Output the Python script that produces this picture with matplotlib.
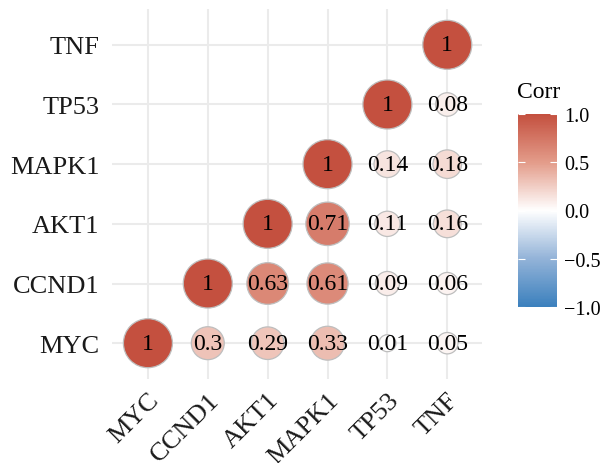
import numpy as np
import matplotlib
matplotlib.use("Agg")
import matplotlib.pyplot as plt
from matplotlib.colors import LinearSegmentedColormap, Normalize
from matplotlib.cm import ScalarMappable

plt.rcParams['font.family'] = ['Liberation Serif', 'DejaVu Serif']

genes = ['MYC', 'CCND1', 'AKT1', 'MAPK1', 'TP53', 'TNF']
corr = [
    [1.00, 0.30, 0.29, 0.33, 0.01, 0.05],
    [0.30, 1.00, 0.63, 0.61, 0.09, 0.06],
    [0.29, 0.63, 1.00, 0.71, 0.11, 0.16],
    [0.33, 0.61, 0.71, 1.00, 0.14, 0.18],
    [0.01, 0.09, 0.11, 0.14, 1.00, 0.08],
    [0.05, 0.06, 0.16, 0.18, 0.08, 1.00],
]
cbar_ticks = [1.0, 0.5, 0.0, -0.5, -1.0]

cmap = LinearSegmentedColormap.from_list(
    'corr', [(0.0, '#3B80BD'), (0.25, '#93B3D8'), (0.5, '#FFFFFF'),
             (0.75, '#E39C8A'), (1.0, '#C4503F')])
norm = Normalize(-1, 1)

fig = plt.figure(figsize=(6.09, 4.64), dpi=100)
ax = fig.add_axes([112/609, 1 - 380/464, 370/609, 370/464])

# lower triangle incl. diagonal: x = column gene, y = row gene
xs, ys, vals = [], [], []
for r in range(len(genes)):
    for c in range(len(genes)):
        if c >= r:
            xs.append(c)
            ys.append(r)
            vals.append(corr[r][c])
xs, ys, vals = np.array(xs), np.array(ys), np.array(vals)

a = np.abs(vals)
d_min, d_max = 17, 49  # circle diameter in px
sa = np.sqrt(a)
d_px = d_min + (d_max - d_min) * (sa - sa.min()) / (sa.max() - sa.min())
sizes = (d_px * 72 / 100) ** 2

ax.scatter(xs, ys, s=sizes, c=vals, cmap=cmap, norm=norm,
           edgecolors='#BEBEBE', linewidths=0.9, zorder=3)
for x, y, v in zip(xs, ys, vals):
    ax.text(x, y, f"{v:g}", ha='center', va='center', fontsize=17,
            color='black', zorder=4)

ax.set_xlim(-0.6, 5.58)
ax.set_ylim(-0.6, 5.6)
ax.set_xticks(range(len(genes)))
ax.set_yticks(range(len(genes)))
ax.set_xticklabels(genes, rotation=45, ha='right', va='top',
                   rotation_mode='anchor', fontsize=19)
ax.set_yticklabels(genes, fontsize=19)
ax.tick_params(length=0, labelcolor='#1a1a1a')
ax.tick_params(axis='y', pad=9)
ax.tick_params(axis='x', pad=7)
ax.grid(True, color='#EBEBEB', linewidth=1.5, zorder=0)
ax.set_axisbelow(True)
for sp in ax.spines.values():
    sp.set_visible(False)

# colour bar
cax = fig.add_axes([518/609, 1 - 308/464, 39/609, 193/464])
cb = fig.colorbar(ScalarMappable(norm=norm, cmap=cmap), cax=cax, ticks=cbar_ticks)
cb.outline.set_visible(False)
cax.set_yticklabels([f"{t:.1f}".replace('-', '\u2212') for t in cbar_ticks])
cax.tick_params(direction='in', color='white', length=5, width=0.8,
                left=True, right=True, labelsize=14.5, pad=5)
fig.text(517/609, 1 - 93/464, 'Corr', ha='left', va='center', fontsize=17)

fig.savefig('out.png', dpi=100)
